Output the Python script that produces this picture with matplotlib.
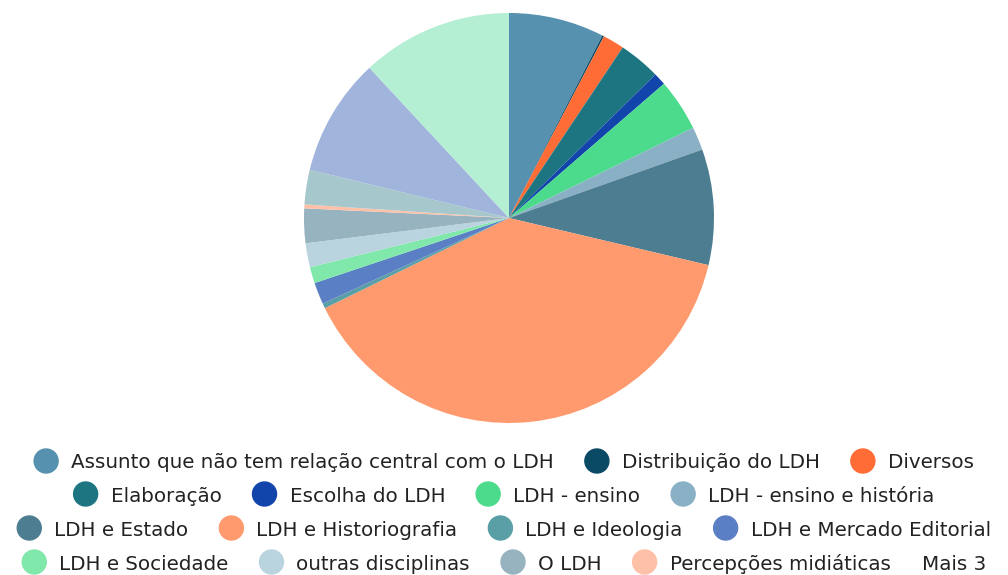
import matplotlib
matplotlib.use('Agg')
import matplotlib.pyplot as plt
from matplotlib.patches import Circle

# fatias (graus aproximados), sentido horario a partir do topo
rotulos = ['Assunto que não tem relação central com o LDH', 'Distribuição do LDH', 'Diversos',
           'Elaboração', 'Escolha do LDH', 'LDH - ensino', 'LDH - ensino e história',
           'LDH e Estado', 'LDH e Historiografia', 'LDH e Ideologia', 'LDH e Mercado Editorial',
           'LDH e Sociedade', 'outras disciplinas', 'O LDH', 'Percepções midiáticas']
valores = [27.1, 0.5, 6.1, 11.9, 3.5, 14.8, 6.6, 32.8, 140.6, 1.4, 6.2, 4.6, 6.8, 9.8, 1.1]
valores_mais3 = [9.8, 33.5, 42.9]
cores = ['#5691af', '#0a4a64', '#ff6c35', '#1e7582', '#1245ab', '#4cdb8c', '#89b0c4',
         '#4d7d90', '#ff9a6e', '#5b9fa6', '#5b7fc4', '#80e8ab', '#b9d3df', '#97b3bf', '#ffc0a8']
cores_mais3 = ['#a6c8cc', '#a0b4dc', '#b5efd3']
linhas_legenda = [[0, 1, 2], [3, 4, 5, 6], [7, 8, 9, 10], [11, 12, 13, 14]]

W, H = 1008, 575
fig = plt.figure(figsize=(W / 100, H / 100), dpi=100)
plt.rcParams['font.family'] = ['DejaVu Sans']

cx, cy, r = 509, 218, 205
ax = fig.add_axes([(cx - r) / W, (H - cy - r) / H, 2 * r / W, 2 * r / H])
ax.pie(valores + valores_mais3, colors=cores + cores_mais3, startangle=90, counterclock=False,
       radius=1, wedgeprops=dict(linewidth=0))
ax.set_xlim(-1, 1)
ax.set_ylim(-1, 1)
ax.axis('off')

# legenda manual centralizada em linhas
tam_fonte = 14.3
cor_texto = '#222222'
raio_m = 12
gap_txt = 13
gap_item = 31
renderer = fig.canvas.get_renderer()


def largura(txt):
    t = fig.text(0, 0, txt, fontsize=tam_fonte)
    w = t.get_window_extent(renderer).width
    t.remove()
    return w


mais = 'Mais 3'
larg_mais = largura(mais)
ys = [461, 494, 528, 562]
for k, linha in enumerate(linhas_legenda):
    ws = [2 * raio_m + gap_txt + largura(rotulos[i]) for i in linha]
    ultima = k == len(linhas_legenda) - 1
    extra = (gap_item + larg_mais) if ultima else 0
    total = sum(ws) + gap_item * (len(linha) - 1) + extra
    x = (W - total) / 2
    y = ys[k]
    for i, w in zip(linha, ws):
        fig.patches.append(Circle((x + raio_m, H - y), raio_m, color=cores[i],
                                  transform=None, figure=fig))
        fig.text((x + 2 * raio_m + gap_txt) / W, (H - y) / H, rotulos[i], fontsize=tam_fonte,
                 color=cor_texto, va='center_baseline', ha='left')
        x += w + gap_item
    if ultima:
        fig.text(x / W, (H - y) / H, mais, fontsize=tam_fonte,
                 color=cor_texto, va='center_baseline', ha='left')

fig.savefig('out.png', dpi=100)
